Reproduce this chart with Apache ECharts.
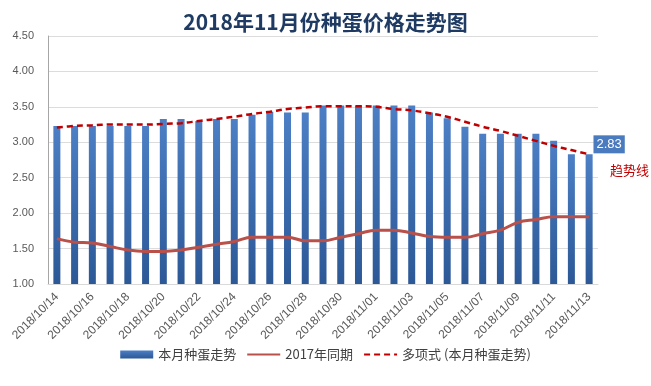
<!DOCTYPE html>
<html>
<head>
<meta charset="utf-8">
<script src="https://cdn.jsdelivr.net/npm/echarts@6/dist/echarts.min.js"></script>
<style>html,body{margin:0;padding:0;background:#fff}#c{width:651px;height:386px}</style>
</head>
<body>
<div id="c"></div>
<script>
const categories = ['2018/10/14','2018/10/15','2018/10/16','2018/10/17','2018/10/18','2018/10/19','2018/10/20','2018/10/21','2018/10/22','2018/10/23','2018/10/24','2018/10/25','2018/10/26','2018/10/27','2018/10/28','2018/10/29','2018/10/30','2018/10/31','2018/11/01','2018/11/02','2018/11/03','2018/11/04','2018/11/05','2018/11/06','2018/11/07','2018/11/08','2018/11/09','2018/11/10','2018/11/11','2018/11/12','2018/11/13'];
const thisMonth = [3.23,3.23,3.23,3.23,3.23,3.23,3.33,3.33,3.30,3.33,3.33,3.39,3.43,3.42,3.42,3.52,3.52,3.52,3.52,3.52,3.52,3.42,3.34,3.22,3.12,3.12,3.12,3.12,3.02,2.83,2.83];
const lastYear = [1.64,1.59,1.58,1.53,1.48,1.46,1.46,1.48,1.52,1.56,1.60,1.66,1.66,1.66,1.61,1.61,1.66,1.71,1.76,1.76,1.72,1.67,1.66,1.66,1.71,1.76,1.87,1.91,1.95,1.95,1.95];
const trend = [3.21,3.23,3.24,3.25,3.25,3.25,3.26,3.27,3.30,3.33,3.36,3.40,3.43,3.47,3.49,3.51,3.51,3.51,3.50,3.47,3.45,3.41,3.36,3.29,3.22,3.16,3.09,3.02,2.95,2.89,2.83];
const yTicks = {min: 1, max: 4.5, interval: 0.5};
const names = ['本月种蛋走势', '2017年同期', '多项式 (本月种蛋走势)'];
const titleText = '2018年11月份种蛋价格走势图';

const chart = echarts.init(document.getElementById('c'));
const barData = thisMonth.map((v, i) => {
  if (i === thisMonth.length - 1) {
    return {value: v, label: {show: true, position: 'top', distance: 1, offset: [20, 0],
      formatter: (p) => p.value.toFixed(2), color: '#fff', fontSize: 13,
      backgroundColor: '#4a7bbf', padding: [3, 3, 2, 3], fontFamily: 'Liberation Sans'}};
  }
  return v;
});
chart.setOption({
  animation: false,
  title: {text: titleText, left: 'center', top: 7,
    textStyle: {fontSize: 21, fontWeight: 'bold', color: '#1f3b63', fontFamily: 'Noto Sans CJK SC'}},
  grid: {left: 48, right: 53, top: 36, bottom: 102},
  legend: {bottom: 20, left: 'center', itemWidth: 33, itemHeight: 8, itemGap: 10,
    textStyle: {fontSize: 13, color: '#404040', fontFamily: 'Noto Sans CJK SC'},
    data: [{name: names[0], icon: 'rect'},
           {name: names[1], itemStyle: {opacity: 0}},
           {name: names[2], itemStyle: {opacity: 0}}]},
  xAxis: {type: 'category', data: categories,
    axisLine: {lineStyle: {color: '#d9d9d9'}}, axisTick: {show: false},
    axisLabel: {interval: 1, rotate: 45, fontSize: 12, color: '#595959', margin: 11, fontFamily: 'Liberation Sans'}},
  yAxis: {type: 'value', min: yTicks.min, max: yTicks.max, interval: yTicks.interval,
    axisLine: {show: true, lineStyle: {color: '#a6a6a6'}}, axisTick: {show: false},
    splitLine: {lineStyle: {color: '#dcdcdc'}},
    axisLabel: {formatter: (v) => v.toFixed(2), fontSize: 11, color: '#595959', margin: 14, fontFamily: 'Liberation Sans'}},
  series: [
    {name: names[0], type: 'bar', data: barData, barWidth: 7,
      itemStyle: {color: new echarts.graphic.LinearGradient(0, 0, 0, 1, [
        {offset: 0, color: '#4c7fc5'}, {offset: 1, color: '#2c5896'}])}, z: 2},
    {name: names[1], type: 'line', data: lastYear, smooth: 0.4, symbol: 'none',
      lineStyle: {color: '#b9504a', width: 3}, itemStyle: {color: '#b9504a'}, z: 3},
    {name: names[2], type: 'line', data: trend, smooth: 0.4, symbol: 'none',
      lineStyle: {color: '#c00000', width: 2.5, type: [6, 4]}, itemStyle: {color: '#c00000'}, z: 4}
  ],
  graphic: [{type: 'text', left: 610, top: 164,
    style: {text: '趋势线', fill: '#c00000', fontSize: 13, fontFamily: 'Noto Sans CJK SC'}}]
});
</script>
</body>
</html>
